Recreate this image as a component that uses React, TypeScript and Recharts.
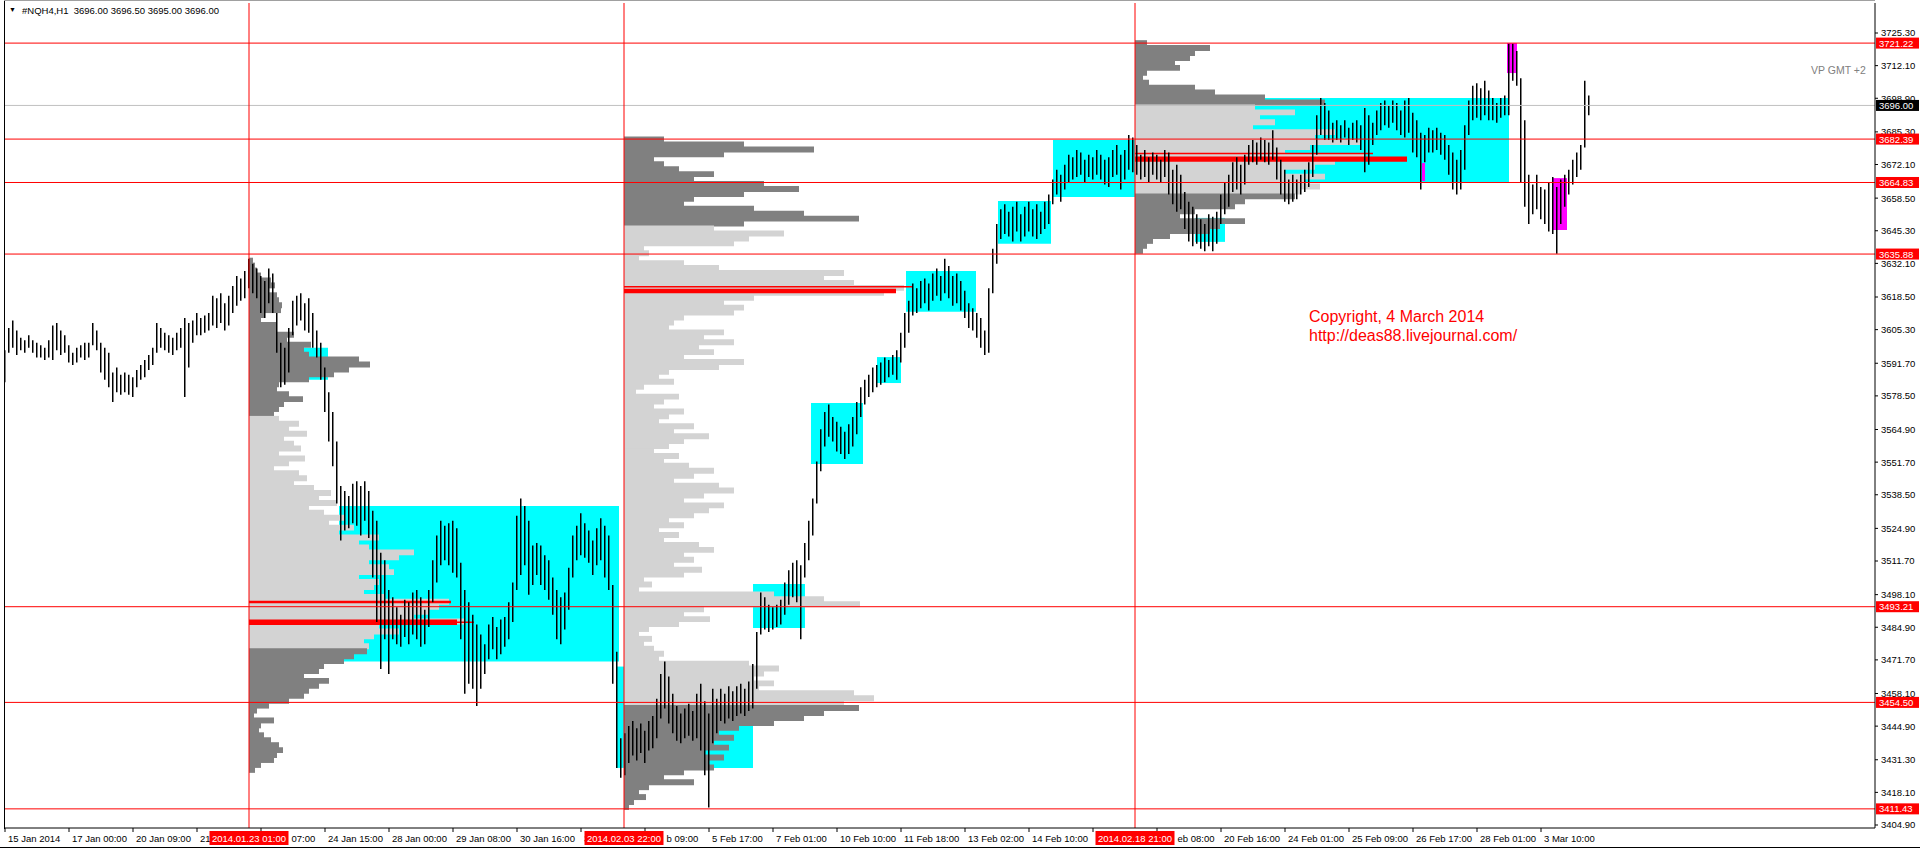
import { ComposedChart, Bar, XAxis, YAxis, ReferenceLine, ReferenceArea } from 'recharts'

const FONT = '"Liberation Sans", Arial, sans-serif'
const W = 1920
const H = 849
// x is measured in H1 bars since 15 Jan 2014 00:00
const X_DOMAIN: [number, number] = [-0.5, 935]
const Y_DOMAIN: [number, number] = [3403.69, 3737.44]
const MARGIN = { top: 3, right: 45, bottom: 21, left: 4 }
const PX_PER_HOUR = (W - MARGIN.left - MARGIN.right) / (X_DOMAIN[1] - X_DOMAIN[0])
const VOL_TO_HOURS = 0.5
const BIN = 2
const TAG_HALF = 39.5

const CYAN = '#00ffff'
const MAGENTA = '#ff00ff'
const RED = '#ff0000'
const DARK = '#808080'
const LIGHT = '#d3d3d3'

// one bar every 2 hours: highs / lows
const highs = [
  3597, 3606, 3609, 3605, 3602, 3601, 3603, 3601, 3600, 3599,
  3598, 3601, 3607, 3608, 3605, 3603, 3599, 3596, 3598, 3599,
  3600, 3600, 3608, 3605, 3600, 3598, 3596, 3588, 3590, 3587,
  3588, 3587, 3586, 3589, 3591, 3593, 3595, 3598, 3608, 3606,
  3604, 3603, 3602, 3604, 3606, 3610, 3608, 3609, 3612, 3610,
  3611, 3612, 3619, 3618, 3620, 3616, 3619, 3623, 3627, 3626,
  3629, 3634,
  3632, 3630, 3627, 3625, 3630, 3628, 3612, 3600, 3598, 3606,
  3617, 3619, 3620, 3616, 3618, 3612, 3605, 3600, 3590, 3580,
  3572, 3560, 3542, 3540, 3538, 3543, 3544, 3542, 3544, 3540,
  3532, 3528, 3515, 3512, 3500, 3497, 3493, 3490, 3496, 3495,
  3499, 3500, 3497, 3492, 3500, 3512, 3522, 3528, 3526, 3527,
  3528, 3525, 3511, 3500, 3495, 3490, 3486, 3482, 3478, 3486,
  3489, 3485, 3488, 3489, 3495, 3503, 3530, 3537, 3534, 3528,
  3518, 3519, 3518, 3514, 3512, 3505, 3500, 3497, 3499, 3509,
  3522, 3526, 3531, 3527, 3524, 3520, 3525, 3529, 3526, 3522,
  3502, 3475, 3440,
  3442, 3445, 3447, 3444, 3446, 3443, 3447, 3449, 3456, 3466,
  3471, 3465, 3458, 3453, 3450, 3452, 3454, 3451, 3458, 3462,
  3455, 3450, 3460, 3456, 3460, 3458, 3461, 3459, 3461, 3462,
  3460, 3463, 3470, 3483, 3499, 3497, 3494, 3493, 3494, 3496,
  3503, 3508, 3511, 3512, 3510, 3519, 3528, 3537, 3552, 3565,
  3572, 3575, 3570, 3568, 3566, 3564, 3567, 3570, 3576, 3582,
  3585, 3587, 3590, 3591, 3592, 3594, 3593, 3595, 3597, 3604,
  3612, 3617, 3624, 3622, 3625, 3626, 3624, 3628, 3630, 3627,
  3634, 3631, 3627, 3628, 3625, 3621, 3616, 3614, 3612, 3610,
  3605, 3622, 3638, 3648, 3654, 3656, 3653, 3655, 3657, 3652,
  3655, 3657, 3654, 3656, 3653, 3657, 3660, 3666, 3670, 3668,
  3672, 3676, 3675, 3678, 3677, 3674, 3676, 3675, 3678, 3676,
  3674, 3675, 3678, 3680, 3676, 3678, 3684, 3683,
  3680, 3676, 3678, 3675, 3677, 3676, 3674, 3678, 3677, 3670,
  3672, 3668, 3661, 3657, 3655, 3652, 3650, 3648, 3652, 3651,
  3653, 3660, 3665, 3668, 3673, 3675, 3672, 3676, 3680, 3682,
  3681, 3683, 3682, 3681, 3686, 3679, 3674, 3670, 3666, 3668,
  3666, 3668, 3670, 3673, 3680, 3692, 3699, 3697, 3694, 3689,
  3690, 3688, 3690, 3687, 3689, 3690, 3688, 3695, 3692, 3689,
  3694, 3697, 3698, 3696, 3698, 3697, 3694, 3698, 3699, 3693,
  3690, 3685, 3684, 3687, 3686, 3687, 3685, 3684, 3680, 3677,
  3674, 3678, 3688, 3698, 3704, 3705, 3703, 3706, 3702, 3699,
  3697, 3699, 3700, 3721, 3721, 3718, 3707, 3690, 3668, 3664,
  3668, 3663, 3662, 3665, 3667, 3663, 3666, 3668, 3670, 3674,
  3677, 3680, 3706, 3700,
]

const lows = [
  3584, 3596, 3598, 3595, 3597, 3596, 3598, 3596, 3594, 3594,
  3593, 3594, 3593, 3597, 3595, 3596, 3592, 3591, 3592, 3594,
  3593, 3594, 3599, 3597, 3588, 3585, 3582, 3576, 3580, 3579,
  3580, 3579, 3578, 3582, 3585, 3586, 3589, 3591, 3596, 3598,
  3597, 3596, 3595, 3597, 3598, 3578, 3590, 3600, 3603, 3603,
  3604, 3605, 3607, 3606, 3608, 3605, 3607, 3612, 3615, 3617,
  3618, 3622,
  3620, 3618, 3612, 3610, 3616, 3612, 3596, 3582, 3583, 3588,
  3603, 3607, 3609, 3605, 3604, 3598, 3594, 3585, 3572, 3560,
  3550, 3535, 3520, 3524, 3525, 3527, 3526, 3522, 3528, 3521,
  3505, 3487, 3468, 3480, 3466, 3480, 3478, 3477, 3481, 3478,
  3482, 3480, 3477, 3478, 3485, 3495, 3503, 3510, 3512, 3510,
  3507, 3505, 3480, 3458, 3462, 3460, 3453, 3460, 3466, 3472,
  3476, 3472, 3474, 3477, 3480, 3487, 3500, 3506, 3510, 3498,
  3502, 3506, 3502, 3500, 3496, 3490, 3480, 3478, 3484, 3492,
  3505, 3512, 3514, 3513, 3511, 3506, 3510, 3512, 3505, 3500,
  3462, 3428, 3424,
  3425, 3430, 3433, 3431, 3434, 3430, 3435, 3436, 3440, 3448,
  3452, 3446, 3442, 3439, 3438, 3440, 3441, 3439, 3440, 3435,
  3425, 3412, 3438, 3442, 3447, 3446, 3448, 3447, 3449, 3450,
  3449, 3451, 3452, 3460, 3482, 3484, 3483, 3484, 3485, 3486,
  3490, 3494, 3497, 3495, 3480, 3505, 3512, 3522, 3535, 3548,
  3558, 3562, 3560, 3556, 3555, 3553, 3555, 3558, 3563, 3570,
  3575, 3578, 3580, 3582, 3583, 3584, 3586, 3587, 3585, 3592,
  3598, 3604, 3611, 3612, 3614, 3616, 3613, 3617, 3619, 3617,
  3620, 3618, 3615, 3616, 3613, 3610, 3606, 3605, 3602, 3598,
  3595, 3596, 3620, 3632, 3642, 3644, 3643, 3641, 3645, 3641,
  3643, 3645, 3643, 3642, 3644, 3646, 3648, 3656, 3660, 3657,
  3662, 3665, 3666, 3667, 3668, 3665, 3667, 3666, 3668, 3666,
  3664, 3663, 3667, 3668, 3662, 3666, 3670, 3669,
  3668, 3666, 3667, 3665, 3668, 3666, 3665, 3667, 3660, 3656,
  3653, 3654, 3646, 3641, 3639, 3640, 3638, 3637, 3639, 3637,
  3640, 3648, 3652, 3655, 3661, 3662, 3660, 3664, 3672, 3673,
  3672, 3674, 3673, 3672, 3674, 3666, 3660, 3657, 3656, 3657,
  3658, 3660, 3661, 3663, 3667, 3676, 3684, 3682, 3682, 3681,
  3682, 3681, 3683, 3680, 3682, 3681, 3678, 3669, 3672, 3680,
  3684, 3686, 3688, 3687, 3689, 3686, 3684, 3683, 3685, 3677,
  3675, 3662, 3673, 3677, 3677, 3678, 3676, 3674, 3668, 3662,
  3660, 3662, 3670, 3684, 3690, 3691, 3690, 3692, 3690, 3690,
  3689, 3691, 3692, 3692, 3706, 3704, 3665, 3655, 3648, 3652,
  3654, 3650, 3648, 3645, 3644, 3636, 3648, 3655, 3660, 3664,
  3667, 3670, 3679, 3692,
]

const bars = highs.map((h, k) => ({ i: k * 2, range: [lows[k], h] }))

// volume profiles: start bar, top price, value area, volumes per 2-point bin (top down)
const profileStarts = [122, 309.5, 565]
const profileTops = [3634, 3683, 3722]
const vaHighs = [3570.7, 3646.4, 3695.8]
const vaLows = [3476.5, 3452.6, 3659.8]
const profile1 = [
  4, 6, 8, 12, 22, 26, 20, 28, 30, 33, 32, 15, 12, 28, 28, 45, 38, 62, 55, 60,
  110, 121, 100, 85, 60, 30, 28, 40, 54, 35, 30, 25, 30, 50, 40, 58, 35, 45, 52, 30,
  56, 40, 25, 50, 58, 45, 65, 82, 70, 88, 60, 75, 95, 80, 105, 90, 130, 110, 120, 165,
  150, 120, 140, 145, 110, 130, 125, 115, 135, 200, 190, 180, 165, 215, 130, 150, 125, 115, 120, 118,
  105, 95, 75, 70, 55, 80, 70, 60, 55, 40, 20, 8, 5, 25, 12, 10, 15, 22, 30, 34,
  28, 25, 12, 6,
]
const profile2 = [
  40, 120, 190, 100, 30, 40, 55, 90, 70, 140, 175, 120, 70, 60, 130, 180, 235, 120, 90, 160,
  125, 110, 20, 25, 15, 60, 95, 220, 200, 230, 280, 260, 130, 100, 120, 110, 60, 50, 45, 100,
  80, 110, 75, 90, 60, 120, 95, 45, 35, 50, 20, 12, 55, 40, 30, 60, 45, 35, 70, 50,
  85, 60, 45, 30, 55, 40, 65, 90, 70, 50, 95, 110, 80, 60, 100, 85, 70, 45, 60, 35,
  55, 40, 75, 90, 60, 70, 50, 78, 60, 20, 28, 15, 150, 200, 236, 80, 60, 86, 55, 25,
  15, 28, 20, 30, 40, 35, 125, 155, 140, 130, 150, 135, 230, 250, 220, 235, 200, 180, 150, 115,
  95, 110, 90, 105, 80, 100, 85, 90, 60, 40, 70, 25, 15, 22, 10, 5,
]
const profile3 = [
  12, 75, 60, 55, 40, 45, 12, 8, 14, 60, 80, 130, 190, 120, 160, 125, 140, 118, 200, 180,
  225, 175, 150, 230, 200, 180, 150, 190, 170, 185, 165, 160, 110, 100, 60, 45, 110, 85, 75, 35,
  18, 12, 8,
]
const profiles = [profile1, profile2, profile3]

// points of control (red)
const pocProfile = [0, 0, 0, 1, 1, 2, 2]
const pocHigh = [3495.6, 3488.0, 3487.2, 3623.0, 3621.8, 3676.9, 3675.3]
const pocLow = [3494.6, 3485.8, 3486.6, 3622.3, 3620.0, 3676.3, 3673.2]
const pocVol = [202, 208, 225, 289, 272, 238, 272]

// balance zones (cyan) and extremes (magenta)
const zoneFrom = [142.5, 167, 306, 346, 374, 403, 436, 450.5, 496.5, 524, 595, 624]
const zoneTo = [161.5, 307, 309.5, 374, 400, 429, 448, 485.5, 523, 565, 610, 752]
const zoneTop = [3598, 3534, 3469, 3469, 3502.4, 3575.6, 3594.2, 3629, 3657.3, 3682, 3650.5, 3699]
const zoneBottom = [3585, 3471, 3428, 3428, 3484.6, 3550.9, 3583.7, 3612.5, 3640, 3659, 3640.8, 3664.6]
const extFrom = [751, 774, 708.5]
const extTo = [756, 781, 710]
const extTop = [3721.2, 3666.6, 3672.7]
const extBottom = [3709.1, 3645.6, 3665.4]

const levels = [3721.22, 3682.39, 3664.83, 3635.88, 3493.21, 3454.5, 3411.43]
const lastPrice = 3696.0
const sessionLabels = ['2014.01.23 01:00', '2014.02.03 22:00', '2014.02.18 21:00']

const priceTicks = [
  3725.3, 3712.1, 3698.9, 3685.3, 3672.1, 3658.5, 3645.3, 3632.1, 3618.5, 3605.3,
  3591.7, 3578.5, 3564.9, 3551.7, 3538.5, 3524.9, 3511.7, 3498.1, 3484.9, 3471.7,
  3458.1, 3444.9, 3431.3, 3418.1, 3404.9,
]
const timeTicks = [0, 32, 64, 96, 128, 160, 192, 224, 256, 288, 320, 352, 384, 416, 448, 480, 512, 544, 576, 608, 640, 672, 704, 736, 768]
// labels partly hidden behind the session tags show only their visible part
const timeLabels = [
  '15 Jan 2014', '17 Jan 00:00', '20 Jan 09:00', '21', '07:00', '24 Jan 15:00',
  '28 Jan 00:00', '29 Jan 08:00', '30 Jan 16:00', '3', 'b 09:00', '5 Feb 17:00',
  '7 Feb 01:00', '10 Feb 10:00', '11 Feb 18:00', '13 Feb 02:00', '14 Feb 10:00', '1',
  'eb 08:00', '20 Feb 16:00', '24 Feb 01:00', '25 Feb 09:00', '26 Feb 17:00', '28 Feb 01:00',
  '3 Mar 10:00',
]

const profileRows = profiles.flatMap((vols, p) =>
  vols.map((v, j) => {
    const hi = profileTops[p] - j * BIN
    const lo = hi - BIN
    const mid = (hi + lo) / 2
    return {
      x1: profileStarts[p],
      x2: profileStarts[p] + v * VOL_TO_HOURS,
      y1: lo,
      y2: hi + 0.4,
      fill: mid > vaLows[p] && mid < vaHighs[p] ? LIGHT : DARK,
    }
  })
)

function PriceTag(props: any) {
  const { viewBox, text, bg } = props
  if (!viewBox) return null
  const x = viewBox.x + viewBox.width + 1
  const y = viewBox.y
  return (
    <g>
      <rect x={x} y={y - 5.5} width={43} height={11} fill={bg} />
      <text x={x + 3} y={y + 3.5} fontSize={9.5} fill="#fff" fontFamily={FONT}>{text}</text>
    </g>
  )
}

function DateTag(props: any) {
  const { viewBox, text } = props
  if (!viewBox) return null
  const cx = viewBox.x
  const y = viewBox.y + viewBox.height
  return (
    <g>
      <rect x={cx - TAG_HALF} y={y + 3} width={TAG_HALF * 2} height={14} fill={RED} />
      <text x={cx} y={y + 13.5} textAnchor="middle" fontSize={9.5} fill="#fff" fontFamily={FONT}>{text}</text>
    </g>
  )
}

function TimeTick(props: any) {
  const { x, y, payload } = props
  const n = timeTicks.indexOf(payload.value)
  let tx = x + 3
  // a label that starts well under a session tag continues right after it
  for (const s of profileStarts) {
    const cx = x + (s - payload.value) * PX_PER_HOUR
    if (tx > cx - TAG_HALF + 4 && tx < cx + TAG_HALF) tx = cx + TAG_HALF + 3
  }
  return (
    <g>
      <line x1={x} y1={y} x2={x} y2={y + 4} stroke="#000" />
      <text x={tx} y={y + 14} fontSize={9.5} fill="#000" fontFamily={FONT}>{timeLabels[n]}</text>
    </g>
  )
}

export default function App() {
  return (
    <div style={{ position: 'relative', width: W, height: H, background: '#fff', overflow: 'hidden', fontFamily: FONT }}>
      <style>{'body{margin:0}'}</style>

      {/* profiles and zones underneath */}
      <div style={{ position: 'absolute', left: 0, top: 0 }}>
        <ComposedChart width={W} height={H} data={bars} margin={MARGIN}>
          <XAxis type="number" dataKey="i" domain={X_DOMAIN} hide allowDataOverflow />
          <YAxis type="number" domain={Y_DOMAIN} hide allowDataOverflow />
          {zoneFrom.map((f, n) => (
            <ReferenceArea key={'z' + n} x1={f} x2={zoneTo[n]} y1={zoneBottom[n]} y2={zoneTop[n]}
              fill={CYAN} fillOpacity={1} stroke="none" />
          ))}
          {extFrom.map((f, n) => (
            <ReferenceArea key={'e' + n} x1={f} x2={extTo[n]} y1={extBottom[n]} y2={extTop[n]}
              fill={MAGENTA} fillOpacity={1} stroke="none" />
          ))}
          {profileRows.map((r, n) => (
            <ReferenceArea key={'p' + n} x1={r.x1} x2={r.x2} y1={r.y1} y2={r.y2}
              fill={r.fill} fillOpacity={1} stroke="none" />
          ))}
          {pocHigh.map((h, n) => (
            <ReferenceArea key={'c' + n} x1={profileStarts[pocProfile[n]]}
              x2={profileStarts[pocProfile[n]] + pocVol[n] * VOL_TO_HOURS}
              y1={pocLow[n]} y2={h} fill={RED} fillOpacity={1} stroke="none" />
          ))}
        </ComposedChart>
      </div>

      {/* price bars, levels and axes */}
      <div style={{ position: 'absolute', left: 0, top: 0 }}>
        <ComposedChart width={W} height={H} data={bars} margin={{ top: 3, right: 0, bottom: 0, left: 4 }}
          style={{ fontFamily: FONT }}>
          <XAxis type="number" dataKey="i" domain={X_DOMAIN} allowDataOverflow ticks={timeTicks} interval={0}
            height={21} tickLine={false} tickSize={0} tickMargin={0} axisLine={{ stroke: '#000' }}
            tick={<TimeTick />} />
          <YAxis orientation="right" type="number" domain={Y_DOMAIN} allowDataOverflow ticks={priceTicks}
            interval={0} width={45} tickSize={3} tickMargin={3} axisLine={{ stroke: '#000' }}
            tickLine={{ stroke: '#000' }} tick={{ fontSize: 9.5, fill: '#000' }}
            tickFormatter={(v: number) => v.toFixed(2)} />
          <ReferenceLine y={lastPrice} stroke="#c0c0c0" />
          {levels.map((v) => (
            <ReferenceLine key={'l' + v} y={v} stroke={RED} />
          ))}
          {profileStarts.map((s, n) => (
            <ReferenceLine key={'s' + n} x={s} stroke={RED} />
          ))}
          <Bar dataKey="range" fill="#000" barSize={1.5} isAnimationActive={false} />
        </ComposedChart>
      </div>

      {/* price and session tags on top of the axes */}
      <div style={{ position: 'absolute', left: 0, top: 0 }}>
        <ComposedChart width={W} height={H} data={bars} margin={MARGIN}>
          <XAxis type="number" dataKey="i" domain={X_DOMAIN} hide allowDataOverflow />
          <YAxis type="number" domain={Y_DOMAIN} hide allowDataOverflow />
          <ReferenceLine y={lastPrice} stroke="none" label={<PriceTag text={lastPrice.toFixed(2)} bg="#000" />} />
          {levels.map((v) => (
            <ReferenceLine key={'t' + v} y={v} stroke="none" label={<PriceTag text={v.toFixed(2)} bg={RED} />} />
          ))}
          {profileStarts.map((s, n) => (
            <ReferenceLine key={'d' + n} x={s} stroke="none" label={<DateTag text={sessionLabels[n]} />} />
          ))}
        </ComposedChart>
      </div>

      {/* frame */}
      <div style={{ position: 'absolute', left: 4, top: 0, width: 1, height: 829, background: '#000' }} />
      <div style={{ position: 'absolute', left: 4, top: 0, width: 1871, height: 1, background: '#a0a0a0' }} />
      <div style={{ position: 'absolute', left: 0, top: 847, width: W, height: 1, background: '#000' }} />

      <div style={{ position: 'absolute', left: 9, top: 6, fontSize: 7, color: '#000' }}>▼</div>
      <div style={{ position: 'absolute', left: 22, top: 5, fontSize: 9.5, color: '#000', whiteSpace: 'pre' }}>
        #NQH4,H1  3696.00 3696.50 3695.00 3696.00
      </div>
      <div style={{ position: 'absolute', left: 1811, top: 64, fontSize: 10.5, color: '#808080' }}>VP GMT +2</div>
      <div style={{ position: 'absolute', left: 1309, top: 308, fontSize: 16, lineHeight: '18px', color: RED }}>
        Copyright, 4 March 2014
      </div>
      <div style={{ position: 'absolute', left: 1309, top: 327, fontSize: 16, lineHeight: '18px', color: RED }}>
        http://deas88.livejournal.com/
      </div>
    </div>
  )
}
